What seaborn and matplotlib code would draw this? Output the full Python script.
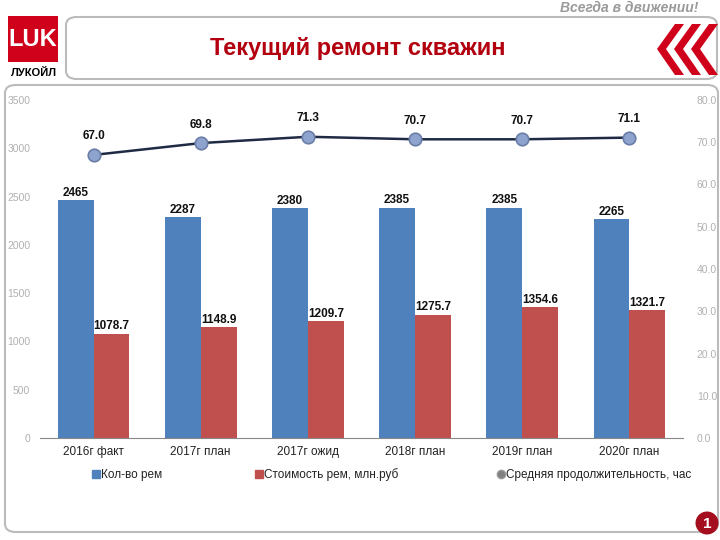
import matplotlib
matplotlib.use('Agg')
import matplotlib.pyplot as plt
import seaborn as sns
import numpy as np
import pandas as pd
from matplotlib.patches import FancyBboxPatch, Polygon, Ellipse, Rectangle
from matplotlib.lines import Line2D

# ---- data ----
categories = ['2016г факт', '2017г план', '2017г ожид', '2018г план', '2019г план', '2020г план']
repairs_count = [2465, 2287, 2380, 2385, 2385, 2265]
repairs_cost = [1078.7, 1148.9, 1209.7, 1275.7, 1354.6, 1321.7]
avg_duration = [67.0, 69.8, 71.3, 70.7, 70.7, 71.1]
series_names = ['Кол-во рем', 'Стоимость рем, млн.руб', 'Средняя продолжительность, час']
left_ticks = [0, 500, 1000, 1500, 2000, 2500, 3000, 3500]
right_ticks = [0, 10, 20, 30, 40, 50, 60, 70, 80]
title_text = 'Текущий ремонт скважин'
slogan_text = 'Всегда в движении!'
company_text = 'ЛУКОЙЛ'
page_number = '1'

BLUE = '#4F81BD'
RED = '#C0504D'
LINE = '#1F2A44'
MFACE = '#8FA3CF'
MEDGE = '#6A7DA6'
DARKRED = '#B3000F'

sns.set_theme(style='white')
plt.rcParams['font.family'] = ['Liberation Sans', 'DejaVu Sans']

W, H = 720, 540
fig = plt.figure(figsize=(7.2, 5.4), dpi=100)
fig.patch.set_facecolor('white')


def fx(px):
    return px / W


def fy(py):
    return 1 - py / H


# ---- decorative frames ----
fig.patches.append(FancyBboxPatch((fx(5), fy(532)), fx(713), (532 - 85) / H,
                                  boxstyle='round,pad=0,rounding_size=0.015',
                                  transform=fig.transFigure, fc='white', ec='#BBBBBB', lw=1.5,
                                  zorder=-5))
fig.patches.append(FancyBboxPatch((fx(66), fy(79)), fx(651), 62 / H,
                                  boxstyle='round,pad=0,rounding_size=0.015',
                                  transform=fig.transFigure, fc='white', ec='#BBBBBB', lw=1.5,
                                  zorder=-5))

# logo
fig.patches.append(Rectangle((fx(8), fy(62)), fx(50), 46 / H, transform=fig.transFigure,
                             fc='#D0021B', ec='none'))
fig.text(fx(33), fy(40), 'LUK', ha='center', va='center', color='white', fontsize=17,
         fontweight='bold', family=['Liberation Sans Narrow', 'Liberation Sans', 'DejaVu Sans'])
fig.text(fx(34), fy(73), company_text, ha='center', va='center', color='black', fontsize=8,
         fontweight='bold')

# slogan
fig.text(fx(698), fy(8), slogan_text, ha='right', va='center', color='#9A9A9A', fontsize=10,
         fontstyle='italic', fontweight='bold')

# title
fig.text(fx(358), fy(49), title_text, ha='center', va='center', color=DARKRED, fontsize=17,
         fontweight='bold')

# chevrons
for i in range(3):
    x0 = 657 + i * 17
    w, t = 18, 9
    top, mid, bot = 24, 49, 75
    pts = [(x0 + w, top), (x0 + w + t, top), (x0 + t, mid), (x0 + w + t, bot), (x0 + w, bot), (x0, mid)]
    fig.patches.append(Polygon([(fx(a), fy(b)) for a, b in pts], closed=True,
                               transform=fig.transFigure, fc='#D0021B', ec='none'))

# page number
fig.patches.append(Ellipse((fx(707), fy(523)), 23 / W, 23 / H, transform=fig.transFigure,
                           fc='#A50E1E', ec='none'))
fig.text(fx(707), fy(524), page_number, ha='center', va='center', color='white', fontsize=11,
         fontweight='bold')

# ---- chart ----
ax = fig.add_axes([fx(40), fy(438), fx(683 - 40), 338 / H])
ax.set_facecolor('none')
df = pd.DataFrame({
    'cat': categories * 2,
    'value': repairs_count + repairs_cost,
    'series': [series_names[0]] * len(categories) + [series_names[1]] * len(categories),
})
sns.barplot(data=df, x='cat', y='value', hue='series', palette=[BLUE, RED], width=0.67,
            saturation=1, ax=ax, legend=False, errorbar=None, linewidth=0)
for cont, fmt in zip(ax.containers, ['{:.0f}', '{:.1f}']):
    ax.bar_label(cont, fmt=fmt, padding=1, fontsize=8.5, color='#111111', fontweight='bold')

ax.set_xlim(-0.5, len(categories) - 0.5)
ax.set_ylim(0, 3500)
ax.set_yticks(left_ticks)
ax.set_yticklabels([str(t) for t in left_ticks], fontsize=7.5, color='#B0B0B0')
ax.tick_params(axis='y', length=0, pad=7)
ax.tick_params(axis='x', which='major', length=0, pad=6, labelsize=8.5, labelcolor='#222222')
ax.set_xticks(np.arange(-0.5, len(categories), 1.0), minor=True)
ax.tick_params(axis='x', which='minor', length=4, color='#888888', direction='out')
ax.set_xlabel('')
ax.set_ylabel('')
for s in ['top', 'right', 'left']:
    ax.spines[s].set_visible(False)
ax.spines['bottom'].set_color('#888888')
ax.spines['bottom'].set_linewidth(0.8)

ax2 = ax.twinx()
sns.lineplot(x=np.arange(len(categories)), y=avg_duration, ax=ax2, color=LINE, linewidth=1.8,
             marker='o', markersize=9, markerfacecolor=MFACE, markeredgecolor=MEDGE,
             markeredgewidth=1.2)
ax2.set_ylim(0, 80)
ax2.set_yticks(right_ticks)
ax2.set_yticklabels([f'{t:.1f}' for t in right_ticks], fontsize=7.5, color='#B0B0B0')
ax2.tick_params(axis='y', length=0, pad=10)
ax2.set_ylabel('')
for s in ax2.spines.values():
    s.set_visible(False)
for i, v in enumerate(avg_duration):
    ax2.annotate(f'{v:.1f}', (i, v), xytext=(0, 9), textcoords='offset points',
                 ha='center', va='bottom', fontsize=8.5, color='#111111', fontweight='bold')

# ---- legends ----
handles = [
    Line2D([], [], marker='s', linestyle='none', markersize=6, markerfacecolor=BLUE, markeredgecolor=BLUE),
    Line2D([], [], marker='s', linestyle='none', markersize=6, markerfacecolor=RED, markeredgecolor=RED),
    Line2D([], [], marker='o', linestyle='none', markersize=6, markerfacecolor='#808080', markeredgecolor='#999999'),
]
for h, name, px in zip(handles, series_names, [92, 255, 497]):
    fig.legend([h], [name], loc='center left', bbox_to_anchor=(fx(px), fy(475)), frameon=False,
               fontsize=8.5, handlelength=0.6, handletextpad=0.15, borderpad=0, borderaxespad=0,
               labelcolor='#222222')

fig.savefig('out.png', dpi=100, facecolor='white')
